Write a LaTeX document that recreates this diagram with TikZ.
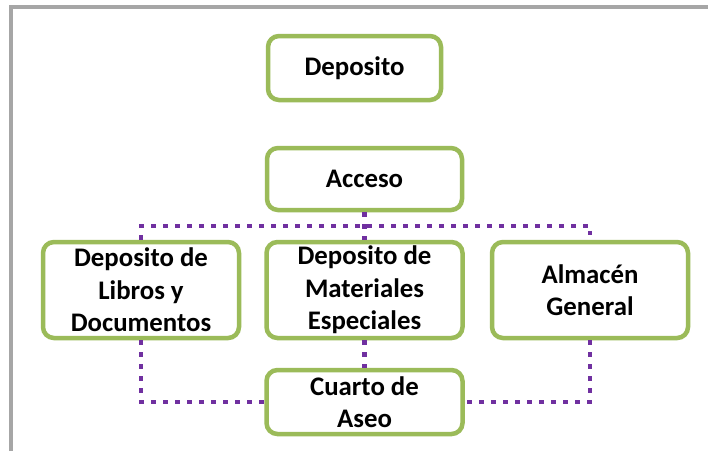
\documentclass[tikz,border=0pt]{standalone}
\usepackage{fontspec}
\setmainfont{Carlito}
\definecolor{verde}{HTML}{9BBB59}
\definecolor{morado}{HTML}{7030A0}
\definecolor{marco}{HTML}{A6A6A6}
\tikzset{
  caja/.style={draw=verde, line width=4.5pt, rounded corners=11pt, fill=white,
    align=center, inner sep=0pt, font=\bfseries\fontsize{26.8}{32.5}\selectfont},
  linea/.style={draw=morado, line width=4.5pt, dash pattern=on 4.5pt off 7.5pt}
}
\begin{document}
\begin{tikzpicture}[x=1pt, y=1pt]
    \useasboundingbox[fill=white] (0, 0) rectangle (708, -451);
    % Marco
    \draw[marco, line width=4pt] (11, -451) -- (11, -7) -- (708, -7);

    % Cajas
    \node[caja, minimum width=173, minimum height=64] (deposito) at (354.5, -68) {Deposito};
    \node[caja, minimum width=195, minimum height=62] (acceso) at (364.5, -179) {Acceso};
    \node[caja, minimum width=196, minimum height=96] (libros) at (141, -290) {Deposito de\\Libros y\\Documentos};
    \node[caja, minimum width=196, minimum height=96] (materiales) at (364.5, -290) {Deposito de\\Materiales\\Especiales};
    \node[caja, minimum width=196, minimum height=96] (almacen) at (590, -290) {Almacén\\General};
    \node[caja, minimum width=196, minimum height=64] (aseo) at (364.5, -402) {Cuarto de\\Aseo};

    % Conexiones
    \draw[linea] (acceso.south) -- (materiales.north);
    \draw[linea] (libros.north) -- ++(0, 14) -| (almacen.north);
    \draw[linea] (libros.south) |- (aseo.west);
    \draw[linea] (materiales.south) -- (aseo.north);
    \draw[linea] (almacen.south) |- (aseo.east);
\end{tikzpicture}
\end{document}
